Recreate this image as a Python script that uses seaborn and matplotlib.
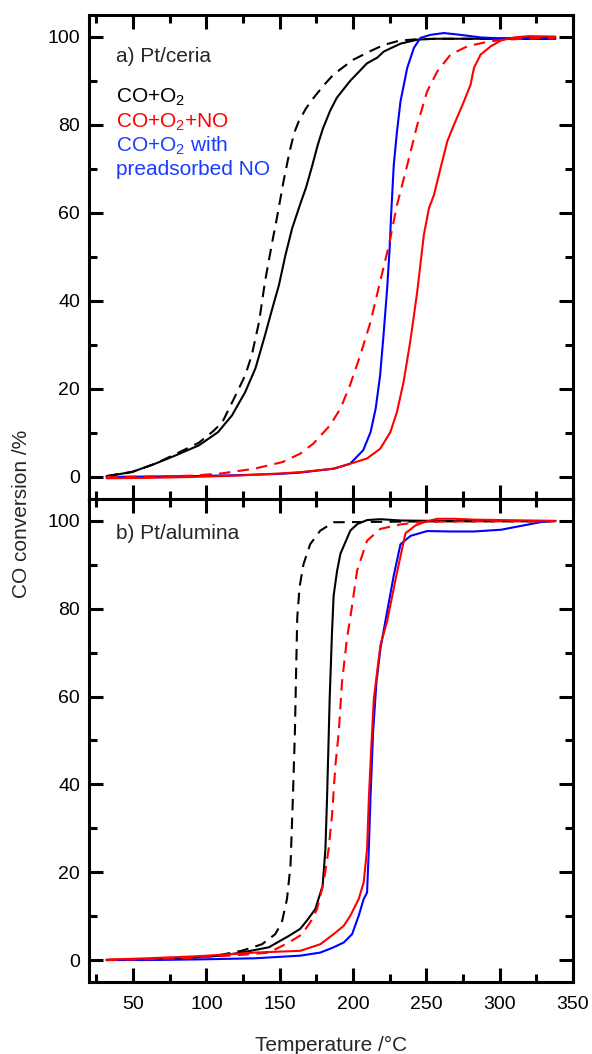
import matplotlib
matplotlib.use("Agg")
import matplotlib.pyplot as plt
from matplotlib.ticker import MultipleLocator
import numpy as np
import pandas as pd
import seaborn as sns

# ---------------- data: a) Pt/ceria ----------------
ceria_T_black = [32, 49, 65, 79, 95, 108, 117.5, 126.5, 133.5, 140, 145, 149.5, 154, 158.5, 164,
                 168, 172, 176, 179.5, 184.5, 189, 198, 209.5, 216.5, 221, 232.5, 244, 255, 280, 310, 338]
ceria_v_black = [0.2, 1.1, 3.0, 4.9, 7.2, 10.2, 14.0, 19.3, 24.7, 32.2, 38.3, 43.6, 50.5, 56.5, 62.0,
                 65.8, 70.5, 75.5, 79.2, 83.3, 86.2, 90.0, 94.0, 95.3, 96.7, 98.5, 99.4, 99.6, 99.6, 99.6, 99.6]

ceria_T_black_d = [32, 50, 65, 79, 95, 105, 111, 120, 126.5, 131, 136, 140, 145, 148.2, 152.7, 156.8,
                   160, 163, 168, 173.2, 180, 186.8, 194, 200, 211.9, 221, 232, 244, 260, 300, 338]
ceria_v_black_d = [0.2, 1.2, 3.0, 5.2, 7.8, 10.5, 12.5, 18.6, 23.1, 27.7, 35.3, 44.4, 53.5, 59.0, 67.3,
                   74.0, 78.3, 80.8, 83.8, 86.2, 89.0, 91.5, 93.3, 94.8, 96.8, 98.2, 99.2, 99.5, 99.6, 99.6, 99.6]

ceria_T_blue = [32, 60, 90, 120, 150, 164, 187, 198, 207, 212, 215.5, 218.5, 221, 223.3, 225, 226,
                227.8, 230, 232.4, 237, 241.5, 246, 253, 262, 273, 287, 300, 315, 338]
ceria_v_blue = [0.0, 0.1, 0.2, 0.4, 0.7, 1.0, 1.9, 3.0, 6.1, 10.2, 15.6, 23.1, 33.0, 42.9, 52.0, 59.6,
                70.9, 78.5, 85.4, 93.0, 97.5, 99.8, 100.5, 100.9, 100.5, 99.9, 99.7, 99.8, 99.8]

ceria_T_red = [32, 60, 90, 120, 150, 164, 187, 198, 209.5, 218.5, 225.5, 230, 234.5, 239, 243.8, 248.3,
               251.8, 255.2, 259.7, 264.3, 268.8, 275.7, 280.2, 282.5, 287, 294, 300.7, 310, 320, 338]
ceria_v_red = [-0.3, -0.2, 0.0, 0.3, 0.8, 1.1, 1.9, 3.0, 4.2, 6.4, 10.2, 14.8, 21.6, 30.7, 42.1, 55.0,
               61.1, 64.1, 70.2, 76.3, 80.0, 85.4, 89.2, 93.0, 96.0, 97.9, 99.2, 99.9, 100.2, 100.1]

ceria_T_red_d = [32, 60, 90, 110, 133, 152, 164, 173, 184.5, 191.5, 198, 205, 212, 218.5, 224.5, 230,
                 237, 243.8, 250.5, 257.5, 266.5, 278, 291.5, 300.7, 320, 338]
ceria_v_red_d = [0.0, 0.1, 0.3, 0.8, 1.9, 3.4, 5.3, 7.6, 11.8, 15.6, 20.9, 27.7, 35.3, 44.4, 52.7, 61.8,
                 70.9, 80.0, 87.6, 92.2, 96.0, 97.9, 98.9, 99.3, 99.7, 99.8]

# ---------------- data: b) Pt/alumina ----------------
alu_T_black_d = [32, 60, 90, 110, 124, 138, 147, 151.5, 155, 157.4, 159, 160.4, 161.3, 162, 163.6,
                 166.3, 170.8, 177.7, 186.8, 250, 338]
alu_v_black_d = [0.0, 0.2, 0.5, 1.2, 2.1, 3.6, 5.9, 8.6, 13.9, 21.5, 36.7, 52.0, 67.0, 78.0, 85.0,
                 90.2, 94.7, 97.8, 99.7, 99.9, 99.9]

alu_T_black = [32, 60, 90, 110, 124, 142.6, 156.3, 164, 168.6, 174.3, 179.3, 181.2, 182.3, 183.2, 184.1,
               185.7, 186.8, 189.1, 191.4, 198.2, 203, 209.6, 218.7, 232.4, 260, 338]
alu_v_black = [0.0, 0.2, 0.5, 1.0, 1.7, 2.9, 5.5, 7.1, 9.0, 11.6, 16.9, 25.3, 36.7, 48.0, 59.5,
               74.7, 83.0, 88.5, 92.5, 97.8, 99.3, 100.2, 100.4, 100.1, 100.0, 100.0]

alu_T_red_d = [32, 60, 90, 110, 125, 142.6, 156.3, 165, 170.9, 175.5, 180, 183.4, 185.7, 188, 190.3,
               192.5, 196, 198.2, 202.8, 209.6, 218.7, 232.4, 246, 280, 338]
alu_v_red_d = [0.0, 0.2, 0.5, 0.9, 1.2, 1.7, 4.0, 5.8, 8.6, 11.6, 17.7, 25.3, 32.9, 44.3, 51.9,
               63.3, 73.5, 78.0, 88.7, 95.5, 98.2, 99.2, 99.8, 99.9, 99.9]

alu_T_red = [32, 60, 96, 133, 164, 177.7, 186.8, 193.7, 198.2, 203.9, 207.3, 209.6, 210.8, 212.4, 214.2,
             218.7, 223.3, 229.5, 235.8, 242.7, 248.3, 257.5, 268.8, 282.5, 300.7, 338]
alu_v_red = [0.1, 0.4, 0.9, 1.7, 2.1, 3.6, 5.9, 7.8, 10.1, 13.9, 17.7, 25.3, 36.7, 48.1, 59.5,
             71.7, 77.2, 87.5, 97.2, 99.0, 99.7, 100.5, 100.5, 100.3, 100.2, 100.0]

alu_T_blue = [32, 60, 96, 133, 164, 177.7, 186.8, 193.7, 199.4, 203.9, 207.3, 209.6, 210.8, 211.9, 213.7,
              216, 218.7, 222.1, 227.8, 232.4, 239.2, 250.6, 266.6, 282.5, 296.2, 301, 315, 329, 338]
alu_v_blue = [0.0, 0.0, 0.15, 0.4, 1.0, 1.7, 2.9, 4.0, 5.9, 10.1, 13.9, 15.4, 25.3, 36.7, 51.9,
              63.3, 70.9, 77.2, 87.6, 94.7, 96.6, 97.7, 97.6, 97.6, 97.9, 98.0, 98.9, 99.8, 100.0]

x_ticks = [50, 100, 150, 200, 250, 300, 350]
y_ticks = [0, 20, 40, 60, 80, 100]

# ---------------- style ----------------
sns.set_theme(style="ticks")
plt.rcParams["font.family"] = ["Liberation Sans", "DejaVu Sans"]
plt.rcParams["mathtext.fontset"] = "custom"
plt.rcParams["mathtext.rm"] = "Liberation Sans"
plt.rcParams["mathtext.it"] = "Liberation Sans:italic"
plt.rcParams["mathtext.default"] = "regular"

RED = "#ff0000"
BLUE = "#0000ff"
TXT_BLUE = "#1a3cff"
DASH = (0, (5.5, 3.5))

fig = plt.figure(figsize=(5.92, 10.54), dpi=100)
ax1 = fig.add_axes([0.1503, 0.52657, 0.8176, 0.4592])
ax2 = fig.add_axes([0.1503, 0.06831, 0.8176, 0.45826], sharex=ax1)


def draw(ax, T, v, color, dashed=False):
    df = pd.DataFrame({"T": T, "v": v})
    sns.lineplot(data=df, x="T", y="v", ax=ax, color=color, lw=1.5,
                 linestyle=DASH if dashed else "-", estimator=None, sort=False)


draw(ax1, ceria_T_black, ceria_v_black, "black")
draw(ax1, ceria_T_black_d, ceria_v_black_d, "black", True)
draw(ax1, ceria_T_blue, ceria_v_blue, BLUE)
draw(ax1, ceria_T_red, ceria_v_red, RED)
draw(ax1, ceria_T_red_d, ceria_v_red_d, RED, True)

draw(ax2, alu_T_black, alu_v_black, "black")
draw(ax2, alu_T_black_d, alu_v_black_d, "black", True)
draw(ax2, alu_T_blue, alu_v_blue, BLUE)
draw(ax2, alu_T_red, alu_v_red, RED)
draw(ax2, alu_T_red_d, alu_v_red_d, RED, True)

for ax in (ax1, ax2):
    ax.set_xlim(20, 350)
    ax.set_ylim(-5, 105)
    ax.set_xticks(x_ticks)
    ax.set_yticks(y_ticks)
    ax.xaxis.set_minor_locator(MultipleLocator(25))
    ax.yaxis.set_minor_locator(MultipleLocator(10))
    ax.set_xlabel("")
    ax.set_ylabel("")
    for s in ax.spines.values():
        s.set_linewidth(2.2)
        s.set_color("black")
        s.set_visible(True)
    ax.tick_params(which="both", direction="in", top=True, right=True,
                   bottom=True, left=True, width=2.2, color="black",
                   labelsize=14, labelcolor="black")
    ax.tick_params(which="major", length=10)
    ax.tick_params(which="minor", length=5.5)
    ax.tick_params(axis="y", pad=6.5)
    ax.tick_params(axis="x", pad=10)
    ax.grid(False)

ax1.tick_params(labelbottom=False)
ax2.set_xticklabels([str(t) for t in x_ticks])

ax1.text(0.056, 0.915, "a) Pt/ceria", transform=ax1.transAxes, fontsize=15, va="center", ha="left")
ax1.text(0.056, 0.829, "CO+O$_2$", transform=ax1.transAxes, fontsize=15, va="center", ha="left", color="black")
ax1.text(0.056, 0.779, "CO+O$_2$+NO", transform=ax1.transAxes, fontsize=15, va="center", ha="left", color=RED)
ax1.text(0.056, 0.729, "CO+O$_2$ with", transform=ax1.transAxes, fontsize=15, va="center", ha="left", color=TXT_BLUE)
ax1.text(0.056, 0.680, "preadsorbed NO", transform=ax1.transAxes, fontsize=15, va="center", ha="left", color=TXT_BLUE)

ax2.text(0.056, 0.928, "b) Pt/alumina", transform=ax2.transAxes, fontsize=15, va="center", ha="left")

fig.text(0.037, 0.512, "CO conversion /%", rotation=90, fontsize=15, va="center", ha="center")
fig.text(0.559, 0.0085, "Temperature /°C", fontsize=15, va="center", ha="center")

fig.savefig("out.png", dpi=100, facecolor="white")
